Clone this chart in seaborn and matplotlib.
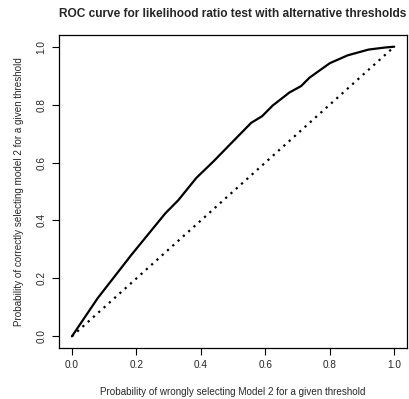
import matplotlib
matplotlib.use("Agg")
import matplotlib.pyplot as plt
import seaborn as sns
import pandas as pd

# ROC curve
false_pos = [0.0, 0.08, 0.185, 0.29, 0.33, 0.386, 0.44, 0.49, 0.556, 0.59,
             0.623, 0.675, 0.711, 0.737, 0.80, 0.855, 0.92, 0.97, 1.0]
true_pos = [0.0, 0.132, 0.282, 0.425, 0.47, 0.547, 0.605, 0.662, 0.737, 0.760,
            0.797, 0.842, 0.864, 0.893, 0.943, 0.970, 0.990, 0.997, 1.0]
diag = [0.0, 1.0]
ticks = [0.0, 0.2, 0.4, 0.6, 0.8, 1.0]
tick_labels = ["0.0", "0.2", "0.4", "0.6", "0.8", "1.0"]

roc = pd.DataFrame({"fpr": false_pos, "tpr": true_pos})
ref = pd.DataFrame({"fpr": diag, "tpr": diag})

sns.set_style("ticks")
plt.rcParams['font.family'] = ['Liberation Sans', 'DejaVu Sans']

fig = plt.figure(figsize=(4.10, 3.99), dpi=100)
ax = fig.add_axes([0.144, 0.128, 0.849, 0.784])

sns.lineplot(data=roc, x="fpr", y="tpr", color="black", linewidth=1.6,
             sort=False, estimator=None, ax=ax)
sns.lineplot(data=ref, x="fpr", y="tpr", color="black", linewidth=1.6,
             linestyle=(0, (1, 2.2)), estimator=None, ax=ax)

ax.set_xlim(-0.04, 1.04)
ax.set_ylim(-0.04, 1.04)
ax.set_xticks(ticks)
ax.set_xticklabels(tick_labels)
ax.set_yticks(ticks)
ax.set_yticklabels(tick_labels, rotation=90, va="center")
ax.tick_params(labelsize=7.2, length=5, width=0.8, color="black", pad=4)

for s in ax.spines.values():
    s.set_visible(True)
    s.set_color("black")
    s.set_linewidth(0.9)

ax.set_xlabel("Probability of wrongly selecting Model 2 for a given threshold",
              fontsize=7.1, labelpad=12)
ax.set_ylabel("Probability of correctly selecting model 2 for a given threshold",
              fontsize=7.1, labelpad=9)
ax.set_title("ROC curve for likelihood ratio test with alternative thresholds",
             fontsize=8.6, fontweight="bold", pad=13)

fig.savefig("out.png", dpi=100)
